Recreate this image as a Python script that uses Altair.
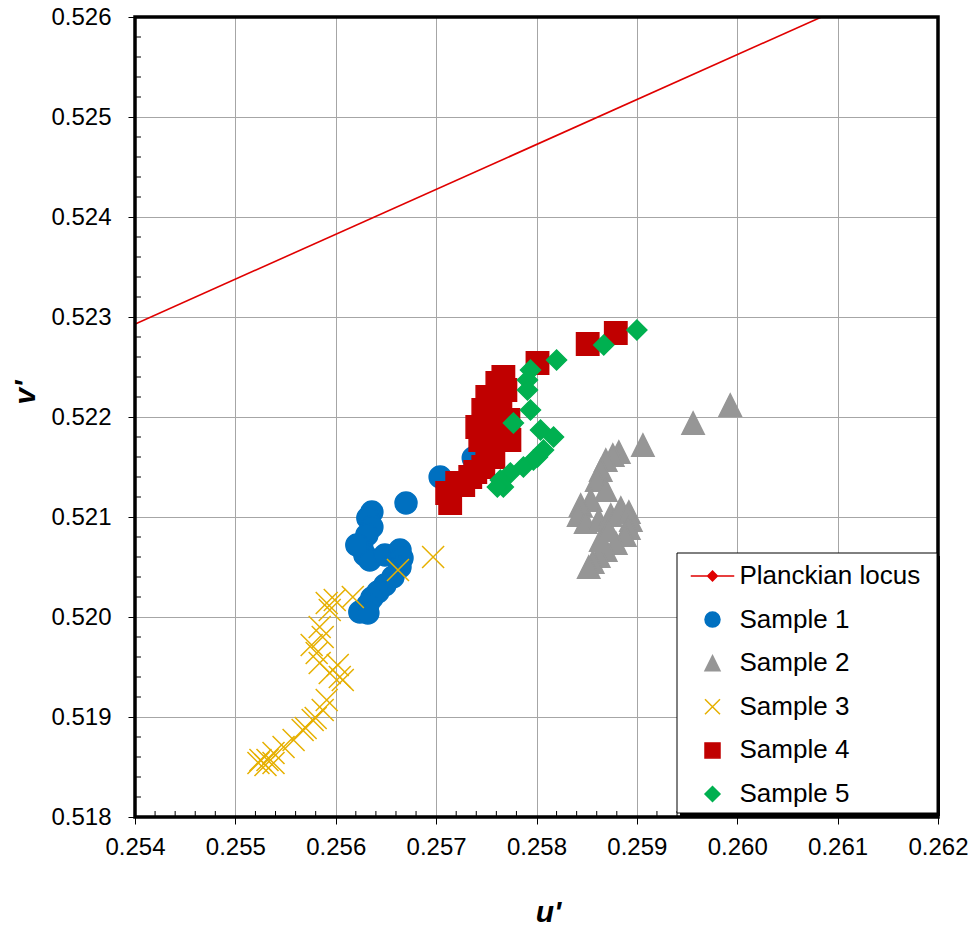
import altair as alt
import pandas as pd

# ---------------- data ----------------
series_names = ["Planckian locus", "Sample 1", "Sample 2", "Sample 3", "Sample 4", "Sample 5"]
series_colors = ["#e00000", "#0070c0", "#969696", "#e6b000", "#c00000", "#00b050"]

planck_u = [0.2530, 0.2630]
planck_v = [0.52248, 0.52697]

s1_u = [0.25670, 0.25636, 0.25632, 0.25636, 0.25631, 0.25626, 0.25629, 0.25634, 0.25649, 0.25664, 0.25666,
        0.25664, 0.25657, 0.25649, 0.25642, 0.25636, 0.25632, 0.25624, 0.25632, 0.25621, 0.25704, 0.25737]
s1_v = [0.52114, 0.52105, 0.52099, 0.52090, 0.52082, 0.52069, 0.52062, 0.52057, 0.52062, 0.52067, 0.52059,
        0.52050, 0.52040, 0.52032, 0.52025, 0.52019, 0.52012, 0.52005, 0.52004, 0.52072, 0.52140, 0.52159]

s2_u = [0.25993, 0.25956, 0.25906, 0.25882, 0.25876, 0.25869, 0.25864, 0.25860, 0.25869, 0.25854, 0.25844,
        0.25842, 0.25849, 0.25862, 0.25874, 0.25884, 0.25892, 0.25894, 0.25892, 0.25888, 0.25879, 0.25869,
        0.25862, 0.25856, 0.25852, 0.25864, 0.25872]
s2_v = [0.52212, 0.52194, 0.52172, 0.52165, 0.52162, 0.52157, 0.52147, 0.52137, 0.52127, 0.52117, 0.52112,
        0.52102, 0.52095, 0.52097, 0.52102, 0.52109, 0.52105, 0.52097, 0.52089, 0.52082, 0.52074, 0.52067,
        0.52061, 0.52055, 0.52050, 0.52077, 0.52087]

s3_u = [0.25697, 0.25662, 0.25617, 0.25591, 0.25594, 0.25599, 0.25584, 0.25587, 0.25581, 0.25584, 0.25594,
        0.25604, 0.25607, 0.25591, 0.25587, 0.25577, 0.25567, 0.25558, 0.25548, 0.25538, 0.25532, 0.25525,
        0.25538, 0.25523, 0.25530, 0.25570, 0.25580, 0.25602, 0.25576]
s3_v = [0.52060, 0.52047, 0.52020, 0.52014, 0.52007, 0.52017, 0.51990, 0.51980, 0.51964, 0.51954, 0.51944,
        0.51940, 0.51937, 0.51917, 0.51907, 0.51897, 0.51887, 0.51877, 0.51870, 0.51864, 0.51857, 0.51857,
        0.51854, 0.51854, 0.51852, 0.51889, 0.51899, 0.51952, 0.51972]

s4_u = [0.25879, 0.25851, 0.25801, 0.25767, 0.25761, 0.25751, 0.25747, 0.25741, 0.25744, 0.25751, 0.25761,
        0.25757, 0.25747, 0.25734, 0.25721, 0.25711, 0.25714, 0.25727, 0.25739, 0.25754, 0.25759, 0.25764,
        0.25769, 0.25756, 0.25752, 0.25773, 0.25772]
s4_v = [0.52284, 0.52273, 0.52254, 0.52240, 0.52234, 0.52220, 0.52207, 0.52190, 0.52177, 0.52170, 0.52177,
        0.52160, 0.52150, 0.52140, 0.52134, 0.52124, 0.52114, 0.52132, 0.52145, 0.52162, 0.52192, 0.52212,
        0.52227, 0.52202, 0.52187, 0.52177, 0.52197]

s5_u = [0.25900, 0.25867, 0.25820, 0.25794, 0.25791, 0.25791, 0.25794, 0.25777, 0.25804, 0.25817, 0.25807,
        0.25801, 0.25797, 0.25787, 0.25774, 0.25764, 0.25767, 0.25761]
s5_v = [0.52287, 0.52272, 0.52257, 0.52247, 0.52237, 0.52227, 0.52207, 0.52194, 0.52187, 0.52180, 0.52167,
        0.52160, 0.52157, 0.52150, 0.52144, 0.52137, 0.52130, 0.52130]

x_ticks = [0.254, 0.255, 0.256, 0.257, 0.258, 0.259, 0.260, 0.261, 0.262]
y_ticks = [0.518, 0.519, 0.520, 0.521, 0.522, 0.523, 0.524, 0.525, 0.526]
x_minor = [round(a + k * 0.0002, 4) for a in x_ticks[:-1] for k in (1, 2, 3, 4)]
y_minor = [round(a + k * 0.0002, 4) for a in y_ticks[:-1] for k in (1, 2, 3, 4)]

# ---------------- tables ----------------
rows = []
for name, us, vs in [("Sample 1", s1_u, s1_v), ("Sample 2", s2_u, s2_v), ("Sample 3", s3_u, s3_v),
                     ("Sample 4", s4_u, s4_v), ("Sample 5", s5_u, s5_v)]:
    for a, b in zip(us, vs):
        rows.append({"u": a, "v": b, "series": name})
pts = pd.DataFrame(rows)
planck = pd.DataFrame({"u": planck_u, "v": planck_v})
xm = pd.DataFrame({"u": x_minor})
ym = pd.DataFrame({"v": y_minor})
one = pd.DataFrame({"k": [0]})

FONT = "Liberation Sans"
W, H = 803, 800

x_scale = alt.Scale(domain=[0.254, 0.262], nice=False, zero=False)
y_scale = alt.Scale(domain=[0.518, 0.526], nice=False, zero=False)

x_axis = alt.Axis(values=x_ticks, format=".3f", title="u'", grid=True, gridColor="#a6a6a6", gridWidth=1,
                  domain=False, ticks=True, tickColor="black", tickSize=7, tickWidth=1,
                  labelFont=FONT, labelFontSize=24, labelColor="black", labelPadding=11,
                  labelFlush=False, labelOverlap=False,
                  titleFont=FONT, titleFontSize=30, titleFontStyle="italic", titleFontWeight="bold",
                  titleColor="black", titleX=413, titleY=95, titleAlign="center", titleBaseline="middle")
y_axis = alt.Axis(values=y_ticks, format=".3f", title="v'", grid=True, gridColor="#a6a6a6", gridWidth=1,
                  domain=False, ticks=True, tickColor="black", tickSize=7, tickWidth=1,
                  labelFont=FONT, labelFontSize=24, labelColor="black", labelPadding=17,
                  labelFlush=False, labelOverlap=False,
                  titleFont=FONT, titleFontSize=30, titleFontStyle="italic", titleFontWeight="bold",
                  titleColor="black", titleX=-110, titleY=375, titleAngle=270, titleAlign="center",
                  titleBaseline="middle")

X = alt.X("u:Q", scale=x_scale, axis=x_axis)
Y = alt.Y("v:Q", scale=y_scale, axis=y_axis)

line = alt.Chart(planck).mark_line(color="#e00000", strokeWidth=1.6, clip=True).encode(x=X, y=Y)

xminor = alt.Chart(xm).mark_rule(color="black", strokeWidth=1).encode(
    x=X, y=alt.value(H), y2=alt.value(H - 6))
yminor = alt.Chart(ym).mark_rule(color="black", strokeWidth=1).encode(
    y=Y, x=alt.value(0), x2=alt.value(6))

frame = alt.Chart(one).mark_rect(fill="transparent", stroke="black", strokeWidth=3.5).encode(
    x=alt.value(0), x2=alt.value(W), y=alt.value(0), y2=alt.value(H))

# legend box (white with a dark drop shadow), placed in the lower right corner of the plot
LX0, LX1, LY0, LY1 = 542, 802, 536, 796
shadow = alt.Chart(one).mark_rect(color="black").encode(
    x=alt.value(LX0 + 3), x2=alt.value(LX1 + 3), y=alt.value(LY0 + 3), y2=alt.value(LY1 + 3))
box = alt.Chart(one).mark_rect(fill="white", stroke="black", strokeWidth=1).encode(
    x=alt.value(LX0), x2=alt.value(LX1), y=alt.value(LY0), y2=alt.value(LY1))

planck_sym = "M-2.9,0L2.9,0M0,-0.65L0.65,0L0,0.65L-0.65,0Z"
tri = "M0,-1L1,1L-1,1Z"
xsym = "M-1,-1L1,1M-1,1L1,-1"
shapes = [planck_sym, "circle", tri, xsym, "square", "diamond"]
sizes = [100, 484, 500, 484, 500, 400]

size_expr = " : ".join(f"datum.series === '{n}' ? {s}" for n, s in zip(series_names, sizes)) + " : 400"

legend = alt.Legend(title=None, orient="none", legendX=LX0, legendY=LY0 - 2,
                    padding=12, labelFont=FONT, labelFontSize=26, labelColor="black",
                    symbolSize=225, symbolStrokeWidth=1.5, symbolOffset=10.5, labelOffset=14,
                    rowPadding=17.6, labelLimit=400)

points = alt.Chart(pts).transform_calculate(sz=size_expr).mark_point(
    filled=True, strokeWidth=1.5, opacity=1).encode(
    x=X, y=Y,
    color=alt.Color("series:N", scale=alt.Scale(domain=series_names, range=series_colors), legend=legend),
    stroke=alt.Stroke("series:N", scale=alt.Scale(domain=series_names, range=series_colors), legend=legend),
    shape=alt.Shape("series:N", scale=alt.Scale(domain=series_names, range=shapes), legend=legend),
    size=alt.Size("sz:Q", scale=None, legend=None),
)

chart = alt.layer(line, xminor, yminor, frame, points, shadow, box).properties(
    width=W, height=H,
    autosize=alt.AutoSizeParams(type="none"),
    padding={"left": 127, "top": 9, "right": 30, "bottom": 111},
).configure(background="white").configure_view(stroke=None)

chart.save("out.html", embed_options={"renderer": "svg", "actions": False})
